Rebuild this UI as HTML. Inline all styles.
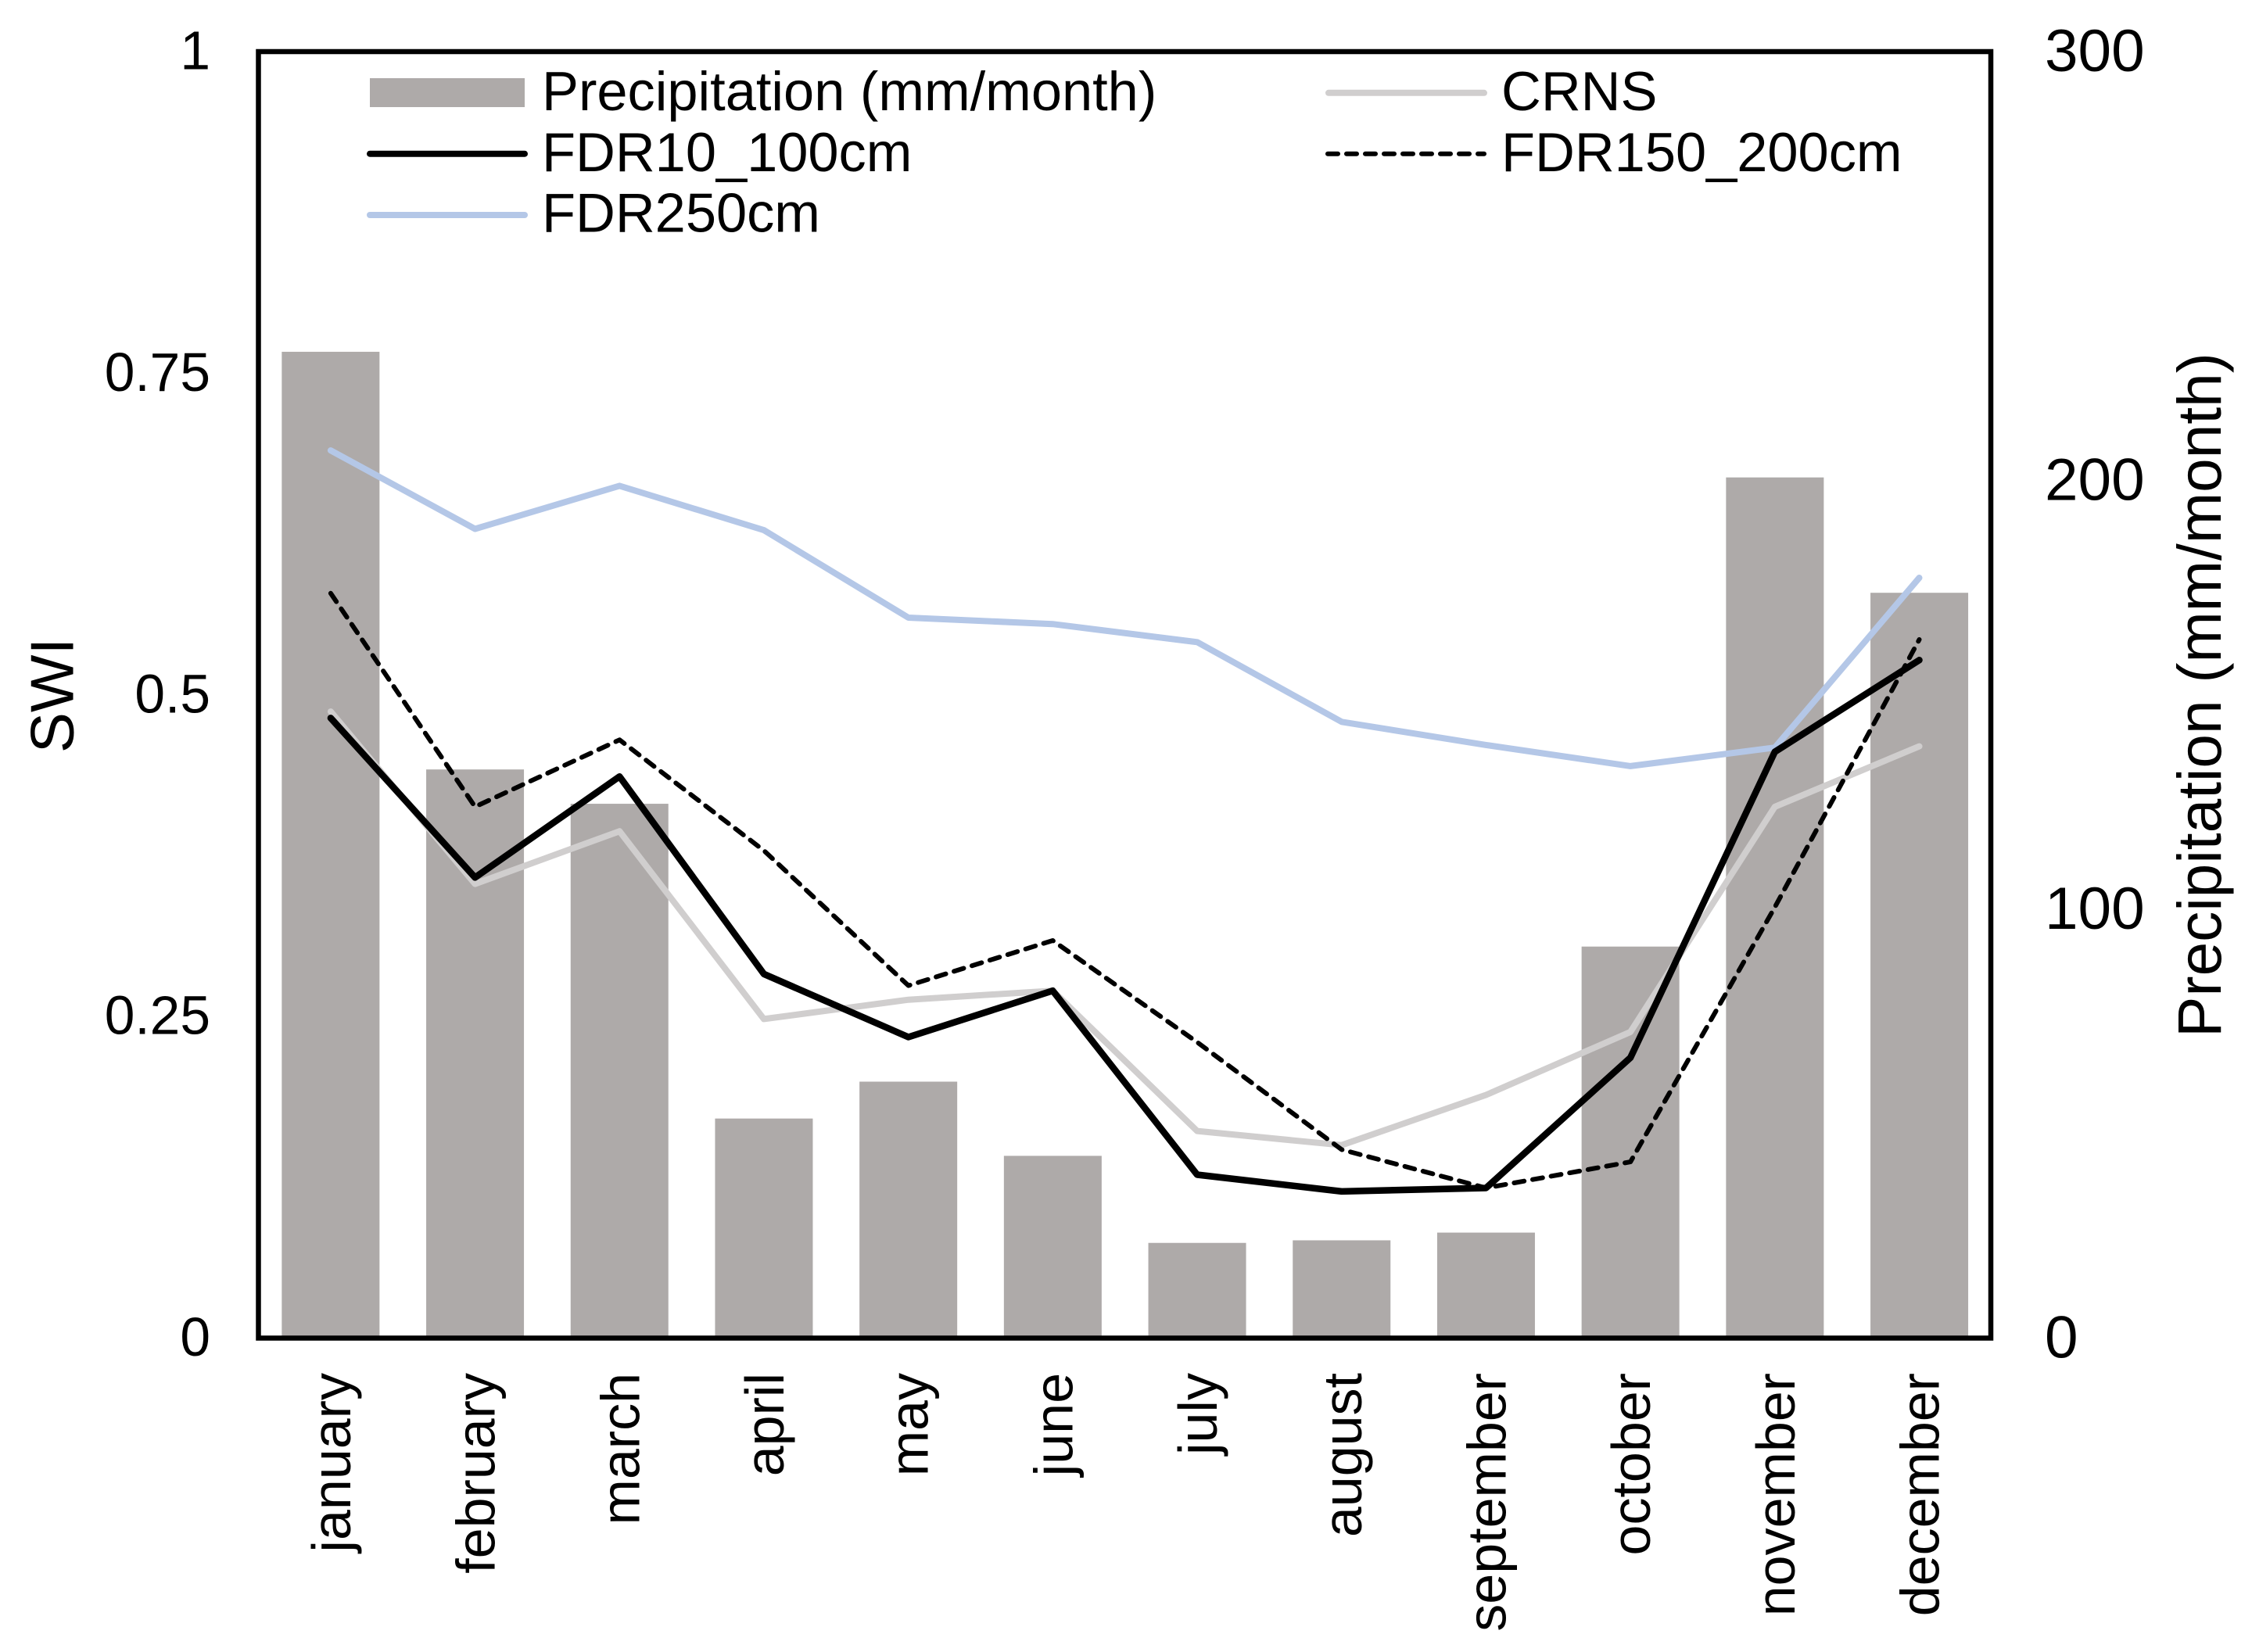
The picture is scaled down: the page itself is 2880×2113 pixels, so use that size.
<!DOCTYPE html>
<html lang="en">
<head>
<meta charset="utf-8">
<title>SWI and precipitation by month</title>
<style>
html,body{margin:0;padding:0;background:#fff;width:2880px;height:2113px;overflow:hidden}
svg{display:block;font-family:"Liberation Sans",Arial,sans-serif;fill:#000}
</style>
</head>
<body>
<svg id="chart" xmlns="http://www.w3.org/2000/svg" width="2880" height="2113" viewBox="0 0 2880 2113">
  <rect x="0" y="0" width="2880" height="2113" fill="#fff"/>
  <g id="bars"></g>
  <g id="lines"></g>
  <rect x="330.5" y="66" width="2215.5" height="1645.5" fill="none" stroke="#000" stroke-width="6.5"/>
  <g id="left-ticks"></g>
  <g id="right-ticks"></g>
  <g id="cat-labels"></g>
  <text transform="translate(93.5,889.5) rotate(-90)" text-anchor="middle" font-size="78">SWI</text>
  <text transform="translate(2840,889) rotate(-90)" text-anchor="middle" font-size="78.4">Precipitation (mm/month)</text>
  <g font-size="70.4">
    <g>
      <rect x="473" y="100" width="198" height="37" fill="#AEAAA9"/>
      <text x="693" y="141">Precipitation (mm/month)</text>
    </g>
    <g>
      <line x1="473" y1="196.7" x2="671" y2="196.7" stroke="#000" stroke-width="8" stroke-linecap="round"/>
      <text x="693" y="219">FDR10_100cm</text>
    </g>
    <g>
      <line x1="473" y1="275" x2="671" y2="275" stroke="#B4C7E7" stroke-width="8" stroke-linecap="round"/>
      <text x="693" y="296.6">FDR250cm</text>
    </g>
    <g>
      <line x1="1699" y1="118.8" x2="1898" y2="118.8" stroke="#D0CECE" stroke-width="8" stroke-linecap="round"/>
      <text x="1920" y="141">CRNS</text>
    </g>
    <g>
      <line x1="1698" y1="196.7" x2="1898" y2="196.7" stroke="#000" stroke-width="6" stroke-linecap="round" stroke-dasharray="13 11"/>
      <text x="1920" y="218.8">FDR150_200cm</text>
    </g>
  </g>
</svg>
<script>
const months = ["january","february","march","april","may","june","july","august","september","october","november","december"];
const precipitation = [230,132.6,124.6,51.2,59.8,42.5,22.2,22.8,24.6,91.3,200.7,173.8];
const crns = [0.487,0.353,0.394,0.248,0.263,0.270,0.161,0.150,0.189,0.238,0.413,0.460];
const fdr10to100 = [0.482,0.358,0.4365,0.283,0.234,0.270,0.127,0.114,0.1167,0.218,0.4557,0.527];
const fdr150to200 = [0.579,0.413,0.465,0.379,0.274,0.309,0.230,0.1465,0.1167,0.137,0.335,0.543];
const fdr250 = [0.690,0.629,0.6625,0.628,0.560,0.555,0.541,0.479,0.461,0.4446,0.459,0.591];
const leftTicks = [0,0.25,0.5,0.75,1];
const rightTicks = [0,100,200,300];

const SVG_NS = "http://www.w3.org/2000/svg";
const PLOT_LEFT = 330.5, STEP = 184.7, BASE_Y = 1711.5, TOP_Y = 66, BAR_W = 125;
function xCenter(i){ return PLOT_LEFT + STEP * (i + 0.5); }
function ySwi(v){ return BASE_Y - (BASE_Y - TOP_Y) * v; }
function yPrecip(v){ return BASE_Y - (BASE_Y - TOP_Y) * v / 300; }
function make(tag, parent){
  const el = document.createElementNS(SVG_NS, tag);
  parent.appendChild(el);
  return el;
}

const barsG = document.getElementById("bars");
precipitation.forEach(function(v, i){
  const r = make("rect", barsG);
  
  
  r.setAttribute("x", xCenter(i) - BAR_W / 2);
  r.setAttribute("y", yPrecip(v));
  r.setAttribute("width", BAR_W);
  r.setAttribute("height", BASE_Y - yPrecip(v));
  r.setAttribute("fill", "#AEAAA9");
});

function drawLine(values, name, color, width, dash){
  const p = make("polyline", document.getElementById("lines"));
  
  
  p.setAttribute("points", values.map(function(v, i){ return xCenter(i).toFixed(1) + "," + ySwi(v).toFixed(1); }).join(" "));
  p.setAttribute("fill", "none");
  p.setAttribute("stroke", color);
  p.setAttribute("stroke-width", width);
  p.setAttribute("stroke-linejoin", "round");
  p.setAttribute("stroke-linecap", "round");
  if (dash) {
    p.setAttribute("stroke-dasharray", dash);
  }
}
drawLine(crns, "line-crns", "#D0CECE", 8);
drawLine(fdr250, "line-fdr250cm", "#B4C7E7", 8);
drawLine(fdr150to200, "line-fdr150-200cm", "#000", 6, "13 11");
drawLine(fdr10to100, "line-fdr10-100cm", "#000", 8.5);

const leftG = document.getElementById("left-ticks");
leftTicks.forEach(function(v){
  const t = make("text", leftG);
  
  
  t.setAttribute("x", 269);
  t.setAttribute("y", ySwi(v) + 22.5);
  t.setAttribute("text-anchor", "end");
  t.setAttribute("font-size", "69.5");
  t.textContent = String(v);
});

const rightG = document.getElementById("right-ticks");
rightTicks.forEach(function(v){
  const t = make("text", rightG);
  
  
  t.setAttribute("x", 2615);
  t.setAttribute("y", yPrecip(v) + 25);
  t.setAttribute("font-size", "76.5");
  t.textContent = String(v);
});

const catG = document.getElementById("cat-labels");
months.forEach(function(m, i){
  const t = make("text", catG);
  
  
  t.setAttribute("transform", "translate(" + (xCenter(i) + 25) + ",1756) rotate(-90)");
  t.setAttribute("text-anchor", "end");
  t.setAttribute("font-size", "70");
  t.textContent = m;
});
</script>
</body>
</html>
